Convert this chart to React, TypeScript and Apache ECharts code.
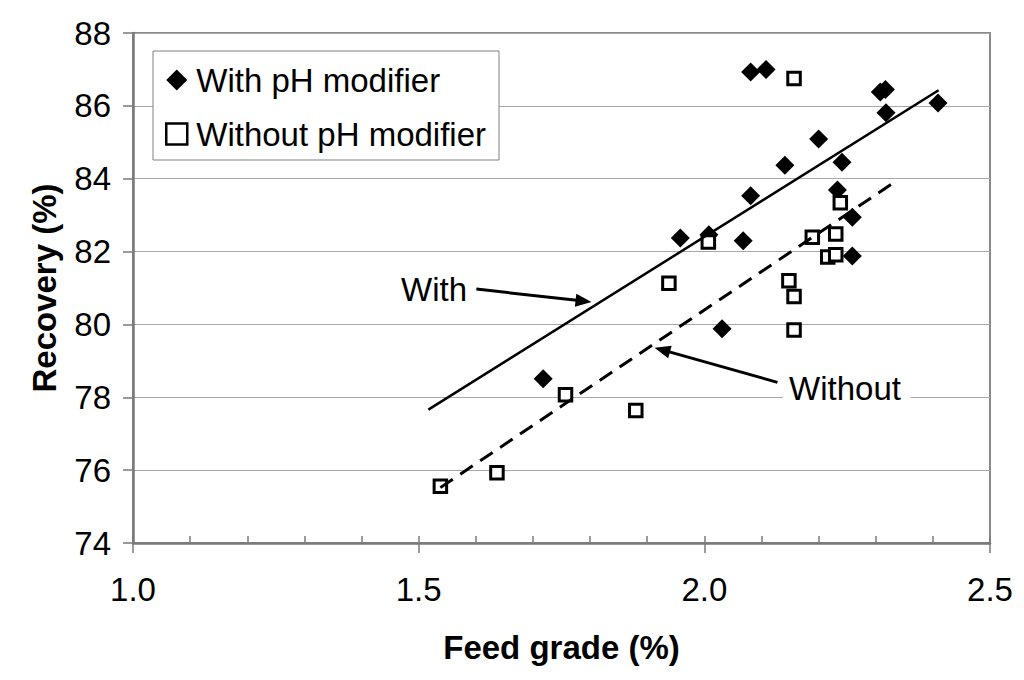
import React, { useEffect, useRef } from "react";
import * as echarts from "echarts";

const withX = [2.081, 2.108, 2.308, 2.317, 2.318, 2.409, 2.2, 2.141, 2.241, 2.081, 2.233, 2.259, 1.958, 2.008, 2.068, 2.259, 2.031, 1.718];
const withY = [86.93, 87.0, 86.38, 86.45, 85.81, 86.08, 85.09, 84.37, 84.45, 83.53, 83.69, 82.94, 82.37, 82.46, 82.3, 81.88, 79.88, 78.51];

const withoutX = [2.157, 2.238, 2.189, 2.23, 2.007, 2.216, 2.23, 1.938, 2.148, 2.157, 2.157, 1.757, 1.88, 1.637, 1.538];
const withoutY = [86.75, 83.34, 82.39, 82.48, 82.26, 81.85, 81.91, 81.13, 81.2, 80.77, 79.85, 78.07, 77.64, 75.93, 75.56];

const withTrendX = [1.517, 2.41];
const withTrendY = [77.66, 86.43];
const withoutTrendX = [1.538, 2.335];
const withoutTrendY = [75.52, 83.93];

const seriesNames = ["With pH modifier", "Without pH modifier"];
const annotationTexts = ["With", "Without"];
const withLabelAt = [1.5855, 80.95];
const withArrowFrom = [1.601, 80.97];
const withArrowTo = [1.7886, 80.64];
const withoutLabelAt = [2.137, 78.24];
const withoutArrowFrom = [2.128, 78.41];
const withoutArrowTo = [1.9263, 79.3];

const xMin = 1.0;
const xMax = 2.5;
const yMin = 74;
const yMax = 88;

const FONT = "'Liberation Sans', Arial, sans-serif";
const AXIS_GRAY = "#7a7a7a";

const zip = (xs: number[], ys: number[]) => xs.map((x, i) => [x, ys[i]]);

export default function App() {
  const ref = useRef<HTMLDivElement>(null);
  useEffect(() => {
    if (!ref.current) return;
    const chart = echarts.init(ref.current, undefined, { renderer: "svg" });
    const arrowLine = {
      silent: true,
      symbol: ["none", "triangle"],
      symbolSize: [13, 16],
      lineStyle: { color: "#000", width: 3, type: "solid" },
      label: { show: false },
      emphasis: { disabled: true },
    };
    const textPoint = (name: string, at: number[], pos: string, bg: string, pad: number[]) => ({
      name,
      coord: at,
      symbol: "circle",
      symbolSize: 1,
      itemStyle: { color: "transparent" },
      label: {
        show: true,
        position: pos,
        distance: 0,
        formatter: "{b}",
        color: "#000",
        fontFamily: FONT,
        fontSize: 33,
        backgroundColor: bg,
        padding: pad,
      },
    });
    chart.setOption({
      animation: false,
      textStyle: { fontFamily: FONT },
      grid: {
        left: 133,
        right: 34,
        top: 33,
        bottom: 137,
        show: true,
        borderColor: "#8a8a8a",
        borderWidth: 2,
        backgroundColor: "transparent",
      },
      legend: {
        data: [
          { name: seriesNames[0] },
          { name: seriesNames[1], itemStyle: { borderWidth: 2.5, borderColor: "#000", color: "#fff" } },
        ],
        orient: "vertical",
        left: 153,
        top: 51,
        padding: [10, 13, 7, 12],
        itemGap: 16,
        itemWidth: 21,
        itemHeight: 21,
        backgroundColor: "#fff",
        borderColor: "#808080",
        borderWidth: 1,
        textStyle: { fontSize: 33, lineHeight: 38, color: "#000", fontFamily: FONT, padding: [0, 0, 0, 4] },
      },
      xAxis: [
        {
          type: "value",
          min: xMin,
          max: xMax,
          interval: 0.5,
          position: "bottom",
          name: "Feed grade (%)",
          nameLocation: "middle",
          nameGap: 88,
          nameTextStyle: { fontSize: 33, fontWeight: "bold", color: "#000", fontFamily: FONT },
          axisLine: { show: true, lineStyle: { color: AXIS_GRAY, width: 2.5 } },
          axisTick: { show: true, inside: false, length: 10, lineStyle: { color: AXIS_GRAY, width: 1.5 } },
          axisLabel: {
            margin: 30,
            fontSize: 33,
            color: "#000",
            fontFamily: FONT,
            formatter: (v: number) => v.toFixed(1),
          },
          splitLine: { show: false },
        },
        {
          type: "value",
          min: xMin,
          max: xMax,
          interval: 0.1,
          position: "bottom",
          axisLine: { show: false },
          axisTick: { show: true, inside: true, length: 7, lineStyle: { color: AXIS_GRAY, width: 1.5 } },
          axisLabel: { show: false },
          splitLine: { show: false },
        },
      ],
      yAxis: {
        type: "value",
        min: yMin,
        max: yMax,
        interval: 2,
        name: "Recovery (%)",
        nameLocation: "middle",
        nameGap: 72,
        nameTextStyle: { fontSize: 33, fontWeight: "bold", color: "#000", fontFamily: FONT },
        axisLine: { show: true, lineStyle: { color: AXIS_GRAY, width: 2.5 } },
        axisTick: { show: true, inside: false, length: 10, lineStyle: { color: AXIS_GRAY, width: 1.5 } },
        axisLabel: { margin: 22, fontSize: 33, color: "#000", fontFamily: FONT },
        splitLine: { show: true, lineStyle: { color: "#a8a8a8", width: 1 } },
      },
      series: [
        {
          name: seriesNames[0],
          type: "scatter",
          symbol: "diamond",
          symbolSize: 19,
          itemStyle: { color: "#000", opacity: 1 },
          data: zip(withX, withY),
          z: 3,
          markLine: { ...arrowLine, data: [[{ coord: withArrowFrom }, { coord: withArrowTo }]] },
          markPoint: { silent: true, data: [textPoint(annotationTexts[0], withLabelAt, "left", "transparent", [0, 0])] },
        },
        {
          name: seriesNames[1],
          type: "scatter",
          symbol: "rect",
          symbolSize: 12.5,
          itemStyle: { color: "#fff", borderColor: "#000", borderWidth: 3, opacity: 1 },
          data: zip(withoutX, withoutY),
          z: 4,
          markLine: { ...arrowLine, data: [[{ coord: withoutArrowFrom }, { coord: withoutArrowTo }]] },
          markPoint: { silent: true, data: [textPoint(annotationTexts[1], withoutLabelAt, "right", "#fff", [0, 10, 0, 6])] },
        },
        {
          name: "With trend",
          type: "line",
          data: zip(withTrendX, withTrendY),
          showSymbol: false,
          symbol: "none",
          lineStyle: { color: "#000", width: 2.5, type: "solid" },
          z: 5,
        },
        {
          name: "Without trend",
          type: "line",
          data: zip(withoutTrendX, withoutTrendY),
          showSymbol: false,
          symbol: "none",
          lineStyle: { color: "#000", width: 3, type: [15, 9] },
          z: 5,
        },
      ],
    });
    return () => chart.dispose();
  }, []);
  return (
    <div
      ref={ref}
      style={{ position: "fixed", left: 0, top: 0, width: 1024, height: 680, background: "#fff" }}
    />
  );
}
